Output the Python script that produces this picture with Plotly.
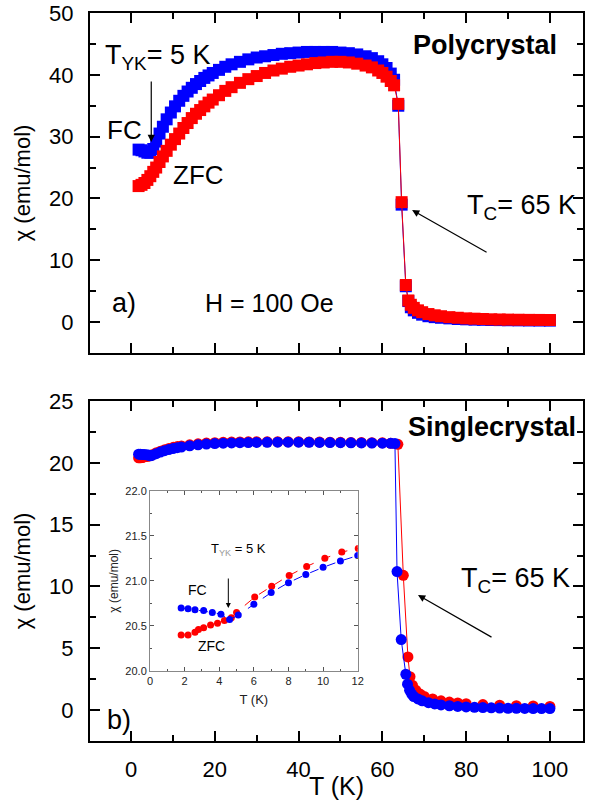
import plotly.graph_objects as go

# ---------------- data ----------------
# Polycrystal (top panel)
T_poly = [1.8, 2.5, 3.2, 3.9, 4.6, 5.3, 6.0, 6.8, 7.6, 8.5, 9.5, 10.5, 11.5, 12.5, 13.5,
          14.5, 15.5, 16.5, 17.5, 18.5, 19.5, 21, 22.5, 24, 26, 28, 30, 32, 34, 36, 38,
          40, 42, 44, 46, 48, 50, 52, 54, 56, 57.5, 59, 60, 61, 62, 62.8, 63.8, 64.6,
          65.6, 66.2, 66.8, 67.5, 68.5, 69.5, 71, 72.5, 74, 76, 78, 80, 82, 84, 86, 88,
          90, 92.5, 95, 97.5, 100]
chi_poly_fc = [27.9, 27.8, 27.6, 27.4, 27.4, 28.0, 29.2, 30.5, 31.6, 32.8, 33.9, 34.9,
               35.8, 36.6, 37.3, 37.9, 38.5, 39.0, 39.5, 39.9, 40.3, 40.8, 41.3, 41.7,
               42.1, 42.5, 42.8, 43.0, 43.2, 43.4, 43.5, 43.6, 43.7, 43.7, 43.7, 43.7,
               43.6, 43.5, 43.3, 43.0, 42.7, 42.2, 41.7, 41.1, 40.2, 39.2, 35.0, 19.0,
               5.8, 3.4, 2.4, 1.9, 1.5, 1.2, 0.95, 0.8, 0.7, 0.6, 0.5, 0.45, 0.4, 0.37,
               0.34, 0.32, 0.3, 0.28, 0.26, 0.25, 0.24]
chi_poly_zfc = [22.0, 22.2, 22.5, 23.0, 23.6, 24.3, 25.0, 25.9, 26.8, 27.7, 28.7, 29.6,
                30.5, 31.4, 32.2, 33.0, 33.7, 34.3, 34.9, 35.5, 36.0, 36.7, 37.4, 38.0,
                38.7, 39.3, 39.8, 40.3, 40.7, 41.0, 41.3, 41.5, 41.7, 41.9, 42.0, 42.1,
                42.1, 42.0, 41.8, 41.5, 41.2, 40.7, 40.3, 39.7, 39.0, 38.3, 35.3, 19.4,
                6.0, 3.5, 2.8, 2.3, 1.9, 1.6, 1.3, 1.1, 0.95, 0.8, 0.7, 0.6, 0.55, 0.5,
                0.45, 0.42, 0.4, 0.38, 0.36, 0.35, 0.34]

# Single crystal (bottom panel and inset)
T_sc_fc = [1.8, 2.2, 2.6, 3.1, 3.6, 4.1, 4.6, 5.1, 6, 7, 8, 9, 10, 11, 12, 14, 16, 18,
           20, 22, 24, 26, 28, 30, 32.5, 35, 37.5, 40, 42.5, 45, 47.5, 50, 52.5, 55,
           57.5, 60, 62, 63, 63.5, 64.5, 65.6, 66.0, 66.5, 67, 67.5, 68.5, 69.5, 71,
           72.5, 74, 76, 78, 80, 82, 84, 86, 88, 90, 92, 94, 96, 98, 100]
chi_sc_fc = [20.70, 20.69, 20.68, 20.67, 20.65, 20.63, 20.57, 20.62, 20.74, 20.87, 20.98,
             21.07, 21.15, 21.22, 21.28, 21.38, 21.46, 21.52, 21.56, 21.59, 21.61, 21.63,
             21.64, 21.65, 21.66, 21.67, 21.67, 21.67, 21.66, 21.65, 21.64, 21.63, 21.62,
             21.61, 21.60, 21.59, 21.58, 21.56, 11.2, 5.7, 2.9, 2.1, 1.6, 1.3, 1.1, 0.9,
             0.75, 0.6, 0.5, 0.42, 0.35, 0.3, 0.26, 0.22, 0.2, 0.18, 0.16, 0.15, 0.14,
             0.13, 0.12, 0.12, 0.12]
T_sc_zfc = [1.8, 2.2, 2.6, 2.8, 3.1, 3.5, 3.9, 4.3, 4.7, 5.0, 6.05, 7.03, 8.04, 9.05,
            10.1, 11.08, 12.03, 14, 16, 18, 20, 22, 24, 26, 28, 30, 32.5, 35, 37.5, 40,
            42.5, 45, 47.5, 50, 52.5, 55, 57.5, 60, 62, 63.7, 65.0, 66.1, 66.6, 67.2,
            68, 69, 70, 72, 74, 76, 78, 80, 84, 88, 92, 96, 100]
chi_sc_zfc = [20.40, 20.40, 20.43, 20.46, 20.48, 20.51, 20.53, 20.56, 20.59, 20.65,
              20.82, 20.94, 21.06, 21.16, 21.25, 21.32, 21.36, 21.46, 21.54, 21.60,
              21.63, 21.66, 21.68, 21.69, 21.70, 21.70, 21.70, 21.70, 21.70, 21.70,
              21.69, 21.68, 21.67, 21.66, 21.65, 21.64, 21.63, 21.62, 21.58, 21.5,
              10.9, 4.3, 2.7, 2.0, 1.6, 1.3, 1.1, 0.9, 0.75, 0.65, 0.58, 0.52, 0.45,
              0.4, 0.36, 0.33, 0.3]

x_ticks = [0, 20, 40, 60, 80, 100]
y_ticks_top = [0, 10, 20, 30, 40, 50]
y_ticks_bot = [0, 5, 10, 15, 20, 25]
inset_xticks = [0, 2, 4, 6, 8, 10, 12]
inset_yticks = [20.0, 20.5, 21.0, 21.5, 22.0]

BLUE = "#0000FF"
RED = "#FF0000"
FONT = "Liberation Sans, Arial, sans-serif"

W, H = 589, 800
ML, MR, MT, MB = 90, 0, 13, 59
PW, PH = W - ML - MR, H - MT - MB


def px(x):
    return (x - ML) / PW


def py(y):
    return (H - MB - y) / PH


fig = go.Figure()

# top panel: blue first, red on top
fig.add_trace(go.Scatter(x=T_poly, y=chi_poly_fc, mode="lines+markers", xaxis="x", yaxis="y",
                         line=dict(color=BLUE, width=1),
                         marker=dict(symbol="square", size=12, color=BLUE, line=dict(width=0)),
                         showlegend=False))
fig.add_trace(go.Scatter(x=T_poly, y=chi_poly_zfc, mode="lines+markers", xaxis="x", yaxis="y",
                         line=dict(color=RED, width=1),
                         marker=dict(symbol="square", size=12, color=RED, line=dict(width=0)),
                         showlegend=False))

# bottom panel: red first, blue on top
fig.add_trace(go.Scatter(x=T_sc_zfc, y=chi_sc_zfc, mode="lines+markers", xaxis="x2", yaxis="y2",
                         line=dict(color=RED, width=1),
                         marker=dict(symbol="circle", size=11, color=RED, line=dict(width=0)),
                         showlegend=False))
fig.add_trace(go.Scatter(x=T_sc_fc, y=chi_sc_fc, mode="lines+markers", xaxis="x2", yaxis="y2",
                         line=dict(color=BLUE, width=1),
                         marker=dict(symbol="circle", size=11, color=BLUE, line=dict(width=0)),
                         showlegend=False))

# inset
fig.add_trace(go.Scatter(x=T_sc_zfc, y=chi_sc_zfc, mode="lines+markers", xaxis="x3", yaxis="y3",
                         line=dict(color=RED, width=1, dash="dash"),
                         marker=dict(symbol="circle", size=7, color=RED, line=dict(width=0)),
                         showlegend=False))
fig.add_trace(go.Scatter(x=T_sc_fc, y=chi_sc_fc, mode="lines+markers", xaxis="x3", yaxis="y3",
                         line=dict(color=BLUE, width=1, dash="dash"),
                         marker=dict(symbol="circle", size=7, color=BLUE, line=dict(width=0)),
                         showlegend=False))

top_dom = [(H - MB - 353) / PH, 1.0]
bot_dom = [0.0, (H - MB - 401) / PH]

common_axis = dict(showline=True, linecolor="black", linewidth=2, mirror="allticks",
                   ticks="inside", ticklen=10, tickwidth=2, tickcolor="black",
                   showgrid=False, zeroline=False,
                   tickfont=dict(family=FONT, size=22, color="black"))

xr = [-9.8, 107.9]

fig.update_layout(
    width=W, height=H,
    margin=dict(l=ML, r=MR, t=MT, b=MB),
    paper_bgcolor="white", plot_bgcolor="white",
    font=dict(family=FONT, color="black"),
    xaxis=dict(domain=[0, 1], anchor="y", range=xr, tickvals=x_ticks, showticklabels=False,
               minor=dict(ticks="inside", ticklen=6, tickwidth=2, tickcolor="black", dtick=10, tick0=0),
               **common_axis),
    yaxis=dict(domain=top_dom, anchor="x", range=[-5, 50], tickvals=y_ticks_top,
               ticklabelstandoff=10,
               minor=dict(ticks="inside", ticklen=6, tickwidth=2, tickcolor="black", dtick=5, tick0=0),
               title=dict(text="χ (emu/mol)", font=dict(family=FONT, size=22), standoff=12),
               **common_axis),
    xaxis2=dict(domain=[0, 1], anchor="y2", range=xr, tickvals=x_ticks, ticklabelstandoff=8,
                minor=dict(ticks="inside", ticklen=6, tickwidth=2, tickcolor="black", dtick=10, tick0=0),
                title=dict(text="T (K)", font=dict(family=FONT, size=25), standoff=0),
                **common_axis),
    yaxis2=dict(domain=bot_dom, anchor="x2", range=[-2.5, 25], tickvals=y_ticks_bot,
                ticklabelstandoff=10,
                minor=dict(ticks="inside", ticklen=6, tickwidth=2, tickcolor="black", dtick=2.5, tick0=0),
                title=dict(text="χ (emu/mol)", font=dict(family=FONT, size=22), standoff=12),
                **common_axis),
    xaxis3=dict(domain=[px(150.7), px(361)], anchor="y3", range=[0, 12], tickvals=inset_xticks,
                showline=True, linecolor="#888888", linewidth=1, mirror="allticks",
                ticks="inside", ticklen=4, tickwidth=1, tickcolor="#555555",
                minor=dict(ticks="inside", ticklen=2, tickwidth=1, tickcolor="#555555", dtick=1, tick0=0),
                showgrid=False, zeroline=False,
                tickfont=dict(family=FONT, size=11, color="#222222"),
                title=dict(text="T (K)", font=dict(family=FONT, size=13, color="#222222"), standoff=8)),
    yaxis3=dict(domain=[py(671), py(490.7)], anchor="x3", range=[20, 22], tickvals=inset_yticks,
                tickformat=".1f",
                showline=True, linecolor="#888888", linewidth=1, mirror="allticks",
                ticks="inside", ticklen=4, tickwidth=1, tickcolor="#555555",
                minor=dict(ticks="inside", ticklen=2, tickwidth=1, tickcolor="#555555", dtick=0.25, tick0=20),
                showgrid=False, zeroline=False,
                tickfont=dict(family=FONT, size=11, color="#222222"),
                title=dict(text="χ (emu/mol)", font=dict(family=FONT, size=12, color="#222222"), standoff=4)),
)

ann = []


def txt(text, x, y, size, xanchor="left", bold=False, color="black"):
    t = f"<b>{text}</b>" if bold else text
    ann.append(dict(text=t, x=px(x), y=py(y), xref="paper", yref="paper", xanchor=xanchor,
                    yanchor="middle", showarrow=False,
                    font=dict(family=FONT, size=size, color=color)))


def arrow(hx, hy, tx, ty, width=1.2, head=2, size=1.2):
    ann.append(dict(text="", x=px(hx), y=py(hy), xref="paper", yref="paper",
                    ax=tx - hx, ay=ty - hy, showarrow=True, arrowhead=head,
                    arrowsize=size, arrowwidth=width, arrowcolor="black"))


# top panel texts
txt("Polycrystal", 490, 45, 27, xanchor="center", bold=True)
txt("T<sub>YK</sub>= 5 K", 103, 57, 27)
txt("FC", 105, 130, 26)
txt("ZFC", 172, 175, 26)
txt("T<sub>C</sub>= 65 K", 470, 207, 27)
txt("a)", 110, 303, 27)
txt("H = 100 Oe", 204, 303, 25)
arrow(152, 142, 152, 80)
arrow(416, 210, 492, 253)

# bottom panel texts
txt("Singlecrystal", 497, 427, 27, xanchor="center", bold=True)
txt("T<sub>C</sub>= 65 K", 463, 580, 27)
txt("b)", 105, 720, 27)
arrow(422, 595, 497, 638)

# inset texts
txt("T<sub><span style='color:#999999'>YK</span></sub> = 5 K", 210, 549, 13)
txt("FC", 187, 590, 14)
txt("ZFC", 197, 646, 14)
arrow(230, 608, 230, 577, width=1, head=2, size=1)

fig.update_layout(annotations=ann)

fig.write_html("out.html")
